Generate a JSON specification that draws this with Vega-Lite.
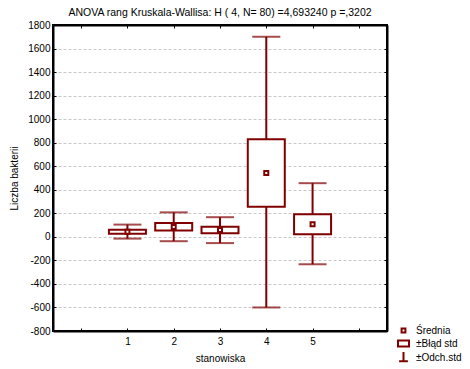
{
  "$schema": "https://vega.github.io/schema/vega-lite/v6.json",
  "width": 334,
  "height": 306,
  "autosize": {"type": "none"},
  "padding": {"left": 53, "top": 25, "right": 83, "bottom": 38},
  "background": "white",
  "view": {"stroke": "black", "strokeWidth": 2},
  "title": {"text": "ANOVA rang Kruskala-Wallisa: H ( 4, N= 80) =4,693240 p =,3202", "font": "Liberation Sans", "fontSize": 10.5, "fontWeight": "normal", "color": "black", "offset": 2},
  "config": {
    "axis": {"labelFont": "Liberation Sans", "labelFontSize": 10, "labelColor": "black", "titleFont": "Liberation Sans", "titleFontSize": 10, "titleFontWeight": "normal", "titleColor": "black", "tickColor": "black", "tickWidth": 1, "domain": true, "domainColor": "black", "domainWidth": 2}
  },
  "data": {"values": [
    {"st": 1, "leg": "Średnia", "mean": 44, "seLow": 26, "seHigh": 61, "sdLow": -15, "sdHigh": 104},
    {"st": 2, "leg": "Średnia", "mean": 84, "seLow": 53, "seHigh": 118, "sdLow": -37, "sdHigh": 208},
    {"st": 3, "leg": "Średnia", "mean": 58, "seLow": 31, "seHigh": 86, "sdLow": -53, "sdHigh": 167},
    {"st": 4, "leg": "Średnia", "mean": 542, "seLow": 255, "seHigh": 830, "sdLow": -600, "sdHigh": 1700},
    {"st": 5, "leg": "Średnia", "mean": 108, "seLow": 23, "seHigh": 193, "sdLow": -233, "sdHigh": 456}
  ]},
  "layer": [
    {
      "mark": {"type": "rule", "color": "#800000", "strokeWidth": 2},
      "encoding": {
        "x": {"field": "st", "type": "quantitative", "scale": {"domain": [-0.5, 6.5], "nice": false, "zero": false},
          "axis": {"orient": "bottom", "values": [0, 1, 2, 3, 4, 5, 6], "labelExpr": "datum.value >= 1 && datum.value <= 5 ? datum.label : ''", "title": "stanowiska", "tickSize": -3, "labelPadding": 8, "titlePadding": 7, "grid": false}},
        "y": {"field": "sdLow", "type": "quantitative", "scale": {"domain": [-800, 1800], "nice": false, "zero": false},
          "axis": {"orient": "left", "values": [-800, -600, -400, -200, 0, 200, 400, 600, 800, 1000, 1200, 1400, 1600, 1800], "labelExpr": "'' + datum.value", "title": "Liczba bakterii", "tickSize": -3, "labelPadding": 6, "titlePadding": 8, "grid": true, "gridColor": "#c8c8c8", "gridDash": [3, 2], "gridWidth": 1}},
        "y2": {"field": "sdHigh"}
      }
    },
    {
      "mark": {"type": "tick", "orient": "horizontal", "color": "#800000", "size": 28, "thickness": 2},
      "encoding": {
        "x": {"field": "st", "type": "quantitative", "scale": {"domain": [-0.5, 6.5], "nice": false, "zero": false},
          "axis": {"orient": "top", "values": [0, 1, 2, 3, 4, 5, 6], "labels": false, "title": null, "tickSize": -3, "grid": false, "domain": true, "domainColor": "black", "domainWidth": 2}},
        "y": {"field": "sdHigh", "type": "quantitative", "scale": {"domain": [-800, 1800], "nice": false, "zero": false},
          "axis": {"orient": "right", "values": [-800, -600, -400, -200, 0, 200, 400, 600, 800, 1000, 1200, 1400, 1600, 1800], "labels": false, "title": null, "tickSize": -3, "grid": false, "domain": true, "domainColor": "black", "domainWidth": 2}}
      }
    },
    {
      "mark": {"type": "tick", "orient": "horizontal", "color": "#800000", "size": 28, "thickness": 2},
      "encoding": {
        "x": {"field": "st", "type": "quantitative", "scale": {"domain": [-0.5, 6.5], "nice": false, "zero": false}, "axis": null},
        "y": {"field": "sdLow", "type": "quantitative", "scale": {"domain": [-800, 1800], "nice": false, "zero": false}, "axis": null}
      }
    },
    {
      "mark": {"type": "bar", "size": 37, "fill": "white", "stroke": "#800000", "strokeWidth": 2},
      "encoding": {
        "x": {"field": "st", "type": "quantitative", "scale": {"domain": [-0.5, 6.5], "nice": false, "zero": false}, "axis": null},
        "y": {"field": "seLow", "type": "quantitative", "scale": {"domain": [-800, 1800], "nice": false, "zero": false}, "axis": null},
        "y2": {"field": "seHigh"}
      }
    },
    {
      "mark": {"type": "point", "filled": true, "color": "#800000", "fill": "white", "stroke": "#800000", "strokeWidth": 2, "size": 131, "opacity": 1},
      "encoding": {
        "x": {"field": "st", "type": "quantitative", "scale": {"domain": [-0.5, 6.5], "nice": false, "zero": false}, "axis": null},
        "y": {"field": "mean", "type": "quantitative", "scale": {"domain": [-800, 1800], "nice": false, "zero": false}, "axis": null},
        "shape": {"field": "leg", "type": "nominal",
          "scale": {"domain": ["Średnia", "±Błąd std", "±Odch.std"], "range": ["M-0.35,-0.35H0.35V0.35H-0.35Z", "M-1,-0.55H1V0.55H-1Z", "M0,-1V0.7M-0.8,0.7H0.8"]},
          "legend": {"orient": "none", "legendX": 344, "legendY": 299, "title": null, "labelFont": "Liberation Sans", "labelFontSize": 10, "labelColor": "black", "symbolSize": 121, "symbolStrokeWidth": 2, "rowPadding": -7, "padding": 0, "labelOffset": 6}}
      }
    }
  ],
  "resolve": {"axis": {"x": "independent", "y": "independent"}}
}
